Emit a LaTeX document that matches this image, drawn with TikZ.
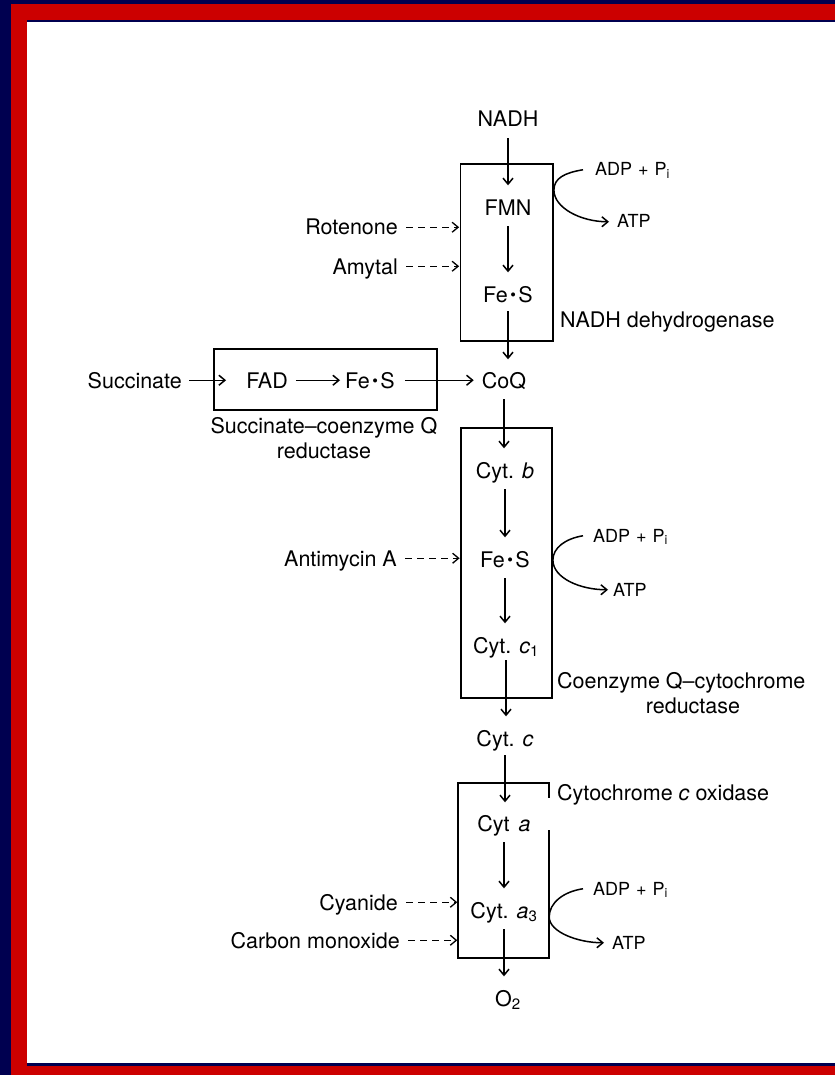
\documentclass[tikz,border=0pt]{standalone}
\usepackage{fontspec}
\setmainfont{TeX Gyre Heros}
\usetikzlibrary{arrows.meta, calc}
\definecolor{framenavy}{RGB}{0,0,80}
\definecolor{framered}{RGB}{204,0,0}
\newcommand\labfont{\fontsize{21.5}{26}\selectfont}
\newcommand\phosfont{\fontsize{18}{22}\selectfont}
\newcommand\fes{Fe\kern2.5pt\raisebox{1.9pt}{\scalebox{0.75}{\textbullet}}\kern2.5pt S}
\newcommand\adppi{ADP\hspace{6pt}+\hspace{6pt}P\textsubscript{i}}

\begin{document}
\begin{tikzpicture}[x=1pt, y=-1pt,
      carrier/.style={font=\labfont, inner sep=0pt, text height=15.5pt, text depth=0pt, anchor=base},
      inhib/.style={carrier, anchor=base east},
      cplx/.style={carrier, anchor=base west},
      phos/.style={font=\phosfont, inner sep=0pt, text height=12.5pt, text depth=0pt, anchor=base west},
      cbox/.style={draw, line width=1.8pt, inner sep=0pt},
      arrline/.style={-{Straight Barb[length=6pt, width=10pt]}, line width=1.5pt},
      arr/.style={arrline, shorten <=11pt, shorten >=14pt},
      darr/.style={arrline, line width=1.3pt, dash pattern=on 7pt off 5pt, shorten <=8pt, shorten >=0.5pt}
  ]
    % Frame
    \fill[framenavy] (0,0) rectangle (835,1075);
    \fill[framered] (11,4) rectangle (835,1075);
    \fill[framenavy] (27,20) rectangle (835,1066);
    \fill[white] (27,22.5) rectangle (835,1063);
    \useasboundingbox (0,0) rectangle (835,1075);

    % Complexes
    \node[cbox, minimum width=92.5pt, minimum height=177pt] (b1) at (506.75,252.5) {};
    \node[cbox, minimum width=223pt, minimum height=61pt] (b2) at (325.5,379.5) {};
    \node[cbox, minimum width=91pt, minimum height=270pt] (b3) at (506.5,563) {};
    \node[inner sep=0pt, minimum width=91pt, minimum height=175pt] (b4) at (503.5,870.5) {};
    \draw[line width=1.8pt] ($(b4.north east)+(0,15)$) -- (b4.north east) -- (b4.north west)
      -- (b4.south west) -- (b4.south east) -- ($(b4.south east)+(0,-128)$);

    % Main chain
    \node[carrier] (nadh) at (508,127) {NADH};
    \node[carrier] (fmn) at (508,215) {FMN};
    \node[carrier] (fes1) at (508,302) {\fes};
    \node[carrier] (coq) at (504,388) {CoQ};
    \node[carrier] (cytb) at (505,478) {Cyt. \textit{b}};
    \node[carrier] (fes3) at (505,567) {\fes};
    \node[carrier] (cytc1) at (506,653) {Cyt. \textit{c}\textsubscript{1}};
    \node[carrier] (cytc) at (505,746) {Cyt. \textit{c}};
    \node[carrier] (cyta) at (504,831) {Cyt\hspace{9pt}\textit{a}};
    \node[carrier] (cyta3) at (504,918) {Cyt. \textit{a}\textsubscript{3}};
    \node[carrier] (otwo) at (508,1006) {O\textsubscript{2}};

    % Succinate branch
    \node[inhib] (succ) at (182,388) {Succinate};
    \node[carrier] (fad) at (267,388) {FAD};
    \node[carrier] (fes2) at (370,388) {\fes};

    % Complex names
    \node[cplx] (l1) at (560,327) {NADH dehydrogenase};
    \node[carrier] (l2a) at (324,433) {Succinate--coenzyme Q};
    \node[carrier] (l2b) at (324,458) {reductase};
    \node[cplx] (l3a) at (557,688) {Coenzyme Q--cytochrome};
    \node[carrier] (l3b) at (693,713) {reductase};
    \node[cplx] (l4) at (557,800) {Cytochrome \textit{c} oxidase};

    % Inhibitors
    \node[inhib] (rot) at (398,235) {Rotenone};
    \node[inhib] (amy) at (398,274) {Amytal};
    \node[inhib] (anti) at (397,566) {Antimycin A};
    \node[inhib] (cyan) at (398,910) {Cyanide};
    \node[inhib] (co) at (400,948) {Carbon monoxide};

    % Phosphorylation sites
    \node[phos] (adp1) at (595,176) {\adppi};
    \node[phos] (atp1) at (617,228) {ATP};
    \node[phos] (adp2) at (593,542) {\adppi};
    \node[phos] (atp2) at (613,596) {ATP};
    \node[phos] (adp3) at (593,895) {\adppi};
    \node[phos] (atp3) at (612,949) {ATP};

    % Electron flow
    \draw[arr] (nadh.south) -- (nadh.south |- fmn.north);
    \draw[arr] (fmn.south) -- (fmn.south |- fes1.north);
    \draw[arr, shorten <=9pt, shorten >=13pt] (fes1.south) -- (fes1.south |- coq.north);
    \draw[arr] (coq.south) -- (coq.south |- cytb.north);
    \draw[arr] (cytb.south) -- (cytb.south |- fes3.north);
    \draw[arr] (fes3.south) -- (fes3.south |- cytc1.north);
    \draw[arr, shorten <=7pt] (cytc1.south) -- (cytc1.south |- cytc.north);
    \draw[arr, shorten <=9pt, shorten >=13pt] (cytc.south) -- (cytc.south |- cyta.north);
    \draw[arr] (cyta.south) -- (cyta.south |- cyta3.north);
    \draw[arr] (cyta3.south) -- (cyta3.south |- otwo.north);
    \draw[arr, shorten <=7pt, shorten >=20pt] (succ) -- (fad);
    \draw[arr, shorten <=8pt, shorten >=5pt] (fad) -- (fes2);
    \draw[arr, shorten <=10pt, shorten >=8pt] (fes2) -- (coq);

    % Inhibition sites
    \draw[darr] (rot.east) -- (rot.east -| b1.west);
    \draw[darr] (amy.east) -- (amy.east -| b1.west);
    \draw[darr] (anti.east) -- (anti.east -| b3.west);
    \draw[darr] (cyan.east) -- (cyan.east -| b4.west);
    \draw[darr] (co.east) -- (co.east -| b4.west);

    % ATP coupling
    \draw[arrline] ($(adp1.west)+(-12,0)$) .. controls +(-18,3) and +(0,-12) .. (b1.east |- 0,190)
      .. controls +(0,18) and +(-28,0) .. ($(atp1.west)+(-8,0)$);
    \draw[arrline] ($(adp2.west)+(-10,0)$) .. controls +(-18,3) and +(0,-12) .. (b3.east |- 0,560)
      .. controls +(0,18) and +(-28,0) .. ($(atp2.west)+(-5,0)$);
    \draw[arrline] ($(adp3.west)+(-10,0)$) .. controls +(-20,3) and +(0,-14) .. (b4.east |- 0,917)
      .. controls +(0,15) and +(-26,0) .. ($(atp3.west)+(-8,0)$);
  \end{tikzpicture}
\end{document}
